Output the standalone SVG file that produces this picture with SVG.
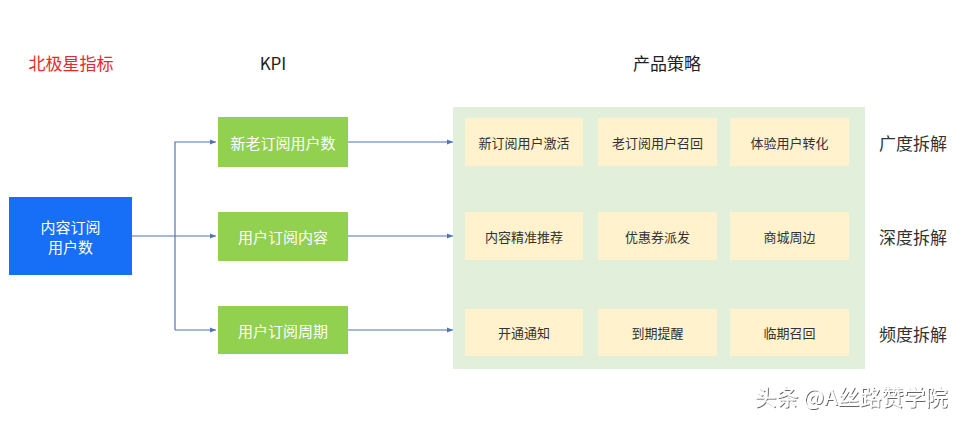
<svg xmlns="http://www.w3.org/2000/svg" width="976" height="421" viewBox="0 0 976 421">
<defs>
<marker id="arr" viewBox="0 0 10 10" refX="10" refY="5" markerWidth="6" markerHeight="6" orient="auto" markerUnits="userSpaceOnUse">
<path d="M0,1 L10,5 L0,9 z" fill="#4f75b8"/>
</marker>
<filter id="sh" x="-5%" y="-20%" width="110%" height="140%">
<feDropShadow dx="1" dy="1" stdDeviation="0.6" flood-color="#000" flood-opacity="0.6"/>
</filter>
</defs>
<style>
text{font-family:"Noto Sans CJK SC","Liberation Sans",sans-serif;text-anchor:middle;dominant-baseline:central}
.hdr{font-size:17px;fill:#222}
.blue{fill:#176ef7}
.green{fill:#92d050}
.wt{fill:#fff;font-size:15px}
.cell{fill:#fff2cc}
.ct{font-size:13px;fill:#333}
.side{font-size:17px;fill:#333}
.con{stroke:#4f75b8;stroke-width:1.2;fill:none}
</style>
<rect width="976" height="421" fill="#fff"/>
<g id="headers">
<text x="71" y="62" class="hdr" style="fill:#e8292b">北极星指标</text>
<text x="273" y="62" class="hdr">KPI</text>
<text x="667" y="62" class="hdr">产品策略</text>
</g>
<g id="strategy-bg"><rect x="453" y="107" width="412" height="262" fill="#e2efda"/></g>
<g id="connectors">
<path class="con" d="M132,236 H216" marker-end="url(#arr)"/>
<path class="con" d="M175,330 V142 H216" marker-end="url(#arr)"/>
<path class="con" d="M175,330 H216" marker-end="url(#arr)"/>
<path class="con" d="M348,142 H453" marker-end="url(#arr)"/>
<path class="con" d="M348,236 H453" marker-end="url(#arr)"/>
<path class="con" d="M348,330 H453" marker-end="url(#arr)"/>
</g>
<g id="n-root"><rect class="blue" x="9" y="197" width="123" height="78"/><text class="wt" x="70.5" y="226">内容订阅</text><text class="wt" x="70.5" y="246">用户数</text></g>
<g id="n-kpi1"><rect class="green" x="218" y="117" width="130" height="50"/><text class="wt" x="283" y="142">新老订阅用户数</text></g>
<g id="n-kpi2"><rect class="green" x="218" y="212" width="130" height="49"/><text class="wt" x="283" y="236">用户订阅内容</text></g>
<g id="n-kpi3"><rect class="green" x="218" y="306" width="130" height="48"/><text class="wt" x="283" y="330">用户订阅周期</text></g>
<g id="n-s11"><rect class="cell" x="465" y="118" width="118" height="48"/><text class="ct" x="524" y="142">新订阅用户激活</text></g>
<g id="n-s12"><rect class="cell" x="598" y="118" width="119" height="48"/><text class="ct" x="657.5" y="142">老订阅用户召回</text></g>
<g id="n-s13"><rect class="cell" x="730" y="118" width="119" height="48"/><text class="ct" x="789.5" y="142">体验用户转化</text></g>
<g id="n-s21"><rect class="cell" x="465" y="212" width="118" height="48"/><text class="ct" x="524" y="236">内容精准推荐</text></g>
<g id="n-s22"><rect class="cell" x="598" y="212" width="119" height="48"/><text class="ct" x="657.5" y="236">优惠券派发</text></g>
<g id="n-s23"><rect class="cell" x="730" y="212" width="119" height="48"/><text class="ct" x="789.5" y="236">商城周边</text></g>
<g id="n-s31"><rect class="cell" x="465" y="309" width="118" height="47"/><text class="ct" x="524" y="332">开通通知</text></g>
<g id="n-s32"><rect class="cell" x="598" y="309" width="119" height="47"/><text class="ct" x="657.5" y="332">到期提醒</text></g>
<g id="n-s33"><rect class="cell" x="730" y="309" width="119" height="47"/><text class="ct" x="789.5" y="332">临期召回</text></g>
<g id="side-labels">
<text class="side" x="913" y="142">广度拆解</text>
<text class="side" x="913" y="236">深度拆解</text>
<text class="side" x="913" y="333">频度拆解</text>
</g>
<g id="watermark"><text x="851" y="395" style="font-size:22px;fill:#fff" filter="url(#sh)">头条 @A丝路赞学院</text></g>
</svg>
